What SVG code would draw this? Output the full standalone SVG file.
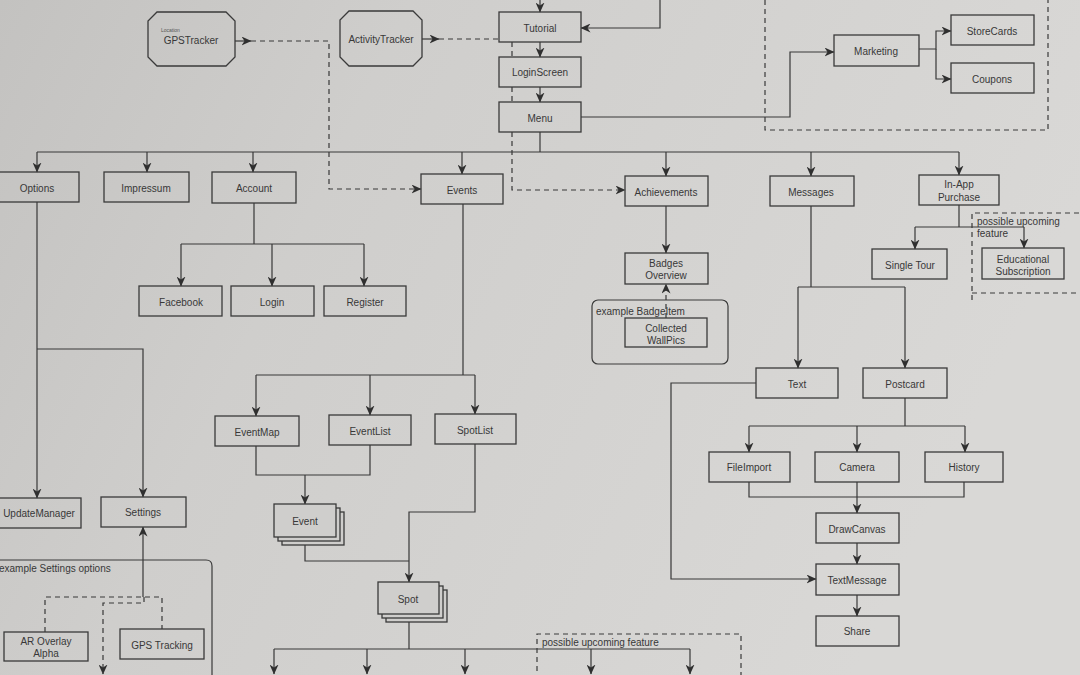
<svg xmlns="http://www.w3.org/2000/svg" width="1080" height="675" viewBox="0 0 1080 675">
<defs>
<linearGradient id="paper" x1="0" y1="0" x2="1" y2="0.3">
<stop offset="0" stop-color="#c3c2c0"/>
<stop offset="0.35" stop-color="#cfcecc"/>
<stop offset="1" stop-color="#d9d8d6"/>
</linearGradient>
<marker id="ah" viewBox="0 0 10 9" refX="9.5" refY="4.5" markerWidth="10" markerHeight="9" markerUnits="userSpaceOnUse" orient="auto">
<path d="M0,0 L10,4.5 L0,9 L3,4.5 z" fill="#2f2f2f"/>
</marker>
<style>
.n rect,.n polygon,.n path{fill:none;stroke:#3a3a3a;stroke-width:1.3}
.n .stk{fill:#cfcecc}
.t{font-family:"Liberation Sans",Arial,sans-serif;font-size:10px;fill:#383838;text-anchor:middle;dominant-baseline:central}
.l{font-family:"Liberation Sans",Arial,sans-serif;font-size:10px;fill:#383838}
.c path{fill:none;stroke:#383838;stroke-width:1.2}
.c .a{marker-end:url(#ah)}
.c .d{stroke-dasharray:5,4}
.g{fill:none;stroke:#3a3a3a;stroke-width:1.2}
.gd{fill:none;stroke:#3a3a3a;stroke-width:1.2;stroke-dasharray:5,4}
</style>
</defs>
<rect x="0" y="0" width="1080" height="675" fill="url(#paper)"/>

<!-- group frames -->
<g id="frames">
<path class="gd" d="M765,0 V130 H1048 V0"/>
<path class="gd" d="M972,300 V213 H1085"/>
<path class="gd" d="M972,293 H1085"/>
<rect class="g" x="592" y="300" width="136" height="64" rx="6"/>
<path class="g" d="M-5,560 H206 Q212,560 212,566 V680"/>
<path class="gd" d="M537,680 V634 H741 V680"/>
<text class="l" x="596" y="311" dominant-baseline="central">example BadgeItem</text>
<text class="l" x="-1" y="568" dominant-baseline="central">example Settings options</text>
<text class="l" x="977" y="221" dominant-baseline="central">possible upcoming</text>
<text class="l" x="977" y="233" dominant-baseline="central">feature</text>
<text class="l" x="542" y="642" dominant-baseline="central">possible upcoming feature</text>
</g>

<g class="c" id="connectors">
<path class="a" d="M540,0 V12"/>
<path class="a" d="M660,0 V28 H581"/>
<path class="a" d="M540,42 V57"/>
<path class="a" d="M540,87 V102"/>
<path class="a" d="M581,117 H790 V52 H834"/>
<path class="a" d="M919,49 H936 V31 H951"/>
<path class="a" d="M936,49 V79 H951"/>
<path d="M540,132 V152"/>
<path d="M37,152 H959"/>
<path class="a" d="M37,152 V172"/>
<path class="a" d="M147,152 V172"/>
<path class="a" d="M253,152 V172"/>
<path class="a" d="M462,152 V174"/>
<path class="a" d="M666,152 V176"/>
<path class="a" d="M811,152 V176"/>
<path class="a" d="M959,152 V175"/>
<path d="M254,203 V244 M181,244 H364"/>
<path class="a" d="M181,244 V286"/>
<path class="a" d="M272,244 V286"/>
<path class="a" d="M364,244 V286"/>
<path class="a" d="M37,202 V498"/>
<path class="a" d="M37,349 H143 V497"/>
<path class="a" d="M143,597 V527"/>
<path class="d" d="M45,632 V597 H162 V629"/>
<path class="d a" d="M144,597 V603 H103 V674"/>
<path d="M463,204 V375 M256,375 H475"/>
<path class="a" d="M256,375 V416"/>
<path class="a" d="M370,375 V415"/>
<path class="a" d="M475,375 V414"/>
<path d="M256,446 V475 H370 V445"/>
<path class="a" d="M305,475 V504"/>
<path class="a" d="M475,444 V512 H409 V582"/>
<path d="M305,537 V561 H409"/>
<path d="M409,614 V649 M274,649 H690"/>
<path class="a" d="M274,649 V674"/>
<path class="a" d="M367,649 V674"/>
<path class="a" d="M465,649 V674"/>
<path class="a" d="M591,649 V674"/>
<path class="a" d="M690,649 V674"/>
<path class="a" d="M666,206 V253"/>
<path class="d a" d="M666,318 V284"/>
<path d="M811,206 V287 M798,287 H905"/>
<path class="a" d="M798,287 V368"/>
<path class="a" d="M905,287 V368"/>
<path d="M905,398 V426 M749,426 H965"/>
<path class="a" d="M749,426 V452"/>
<path class="a" d="M857,426 V452"/>
<path class="a" d="M965,426 V452"/>
<path d="M749,482 V497 H964 V482"/>
<path class="a" d="M857,482 V513"/>
<path class="a" d="M857,543 V564"/>
<path class="a" d="M857,595 V616"/>
<path class="a" d="M756,383 H671 V579 H816"/>
<path d="M959,205 V227 M915,227 H1024"/>
<path class="a" d="M915,227 V249"/>
<path class="a" d="M1024,227 V248"/>
<path class="a" d="M235,41 H251"/>
<path class="d a" d="M251,41 H329 V189 H421"/>
<path class="a" d="M422,39 H439"/>
<path class="d" d="M439,39 H499"/>
<path class="d" d="M512,42 V57 M512,87 V102"/>
<path class="d a" d="M512,132 V190 H625"/>
</g>

<g id="gpstracker" class="n"><polygon points="157,12 226,12 235,21 235,57 226,66 157,66 148,57 148,21"/><text class="l" x="161" y="32" style="font-size:5px;fill:#555">Location</text><text class="t" x="191" y="40">GPSTracker</text></g>
<g id="activitytracker" class="n"><polygon points="349,11 413,11 422,20 422,57 413,66 349,66 340,57 340,20"/><text class="t" x="381" y="39">ActivityTracker</text></g>
<g id="tutorial" class="n"><rect x="499" y="12" width="82" height="30"/><text class="t" x="540" y="28">Tutorial</text></g>
<g id="loginscreen" class="n"><rect x="499" y="57" width="82" height="30"/><text class="t" x="540" y="72">LoginScreen</text></g>
<g id="menu" class="n"><rect x="499" y="102" width="82" height="30"/><text class="t" x="540" y="118">Menu</text></g>
<g id="marketing" class="n"><rect x="834" y="35" width="85" height="31"/><text class="t" x="876" y="51">Marketing</text></g>
<g id="storecards" class="n"><rect x="951" y="15" width="83" height="30"/><text class="t" x="992" y="31">StoreCards</text></g>
<g id="coupons" class="n"><rect x="951" y="63" width="83" height="30"/><text class="t" x="992" y="79">Coupons</text></g>
<g id="options" class="n"><rect x="-2" y="172" width="81" height="30"/><text class="t" x="37" y="188">Options</text></g>
<g id="impressum" class="n"><rect x="104" y="172" width="85" height="30"/><text class="t" x="146" y="188">Impressum</text></g>
<g id="account" class="n"><rect x="212" y="172" width="84" height="31"/><text class="t" x="254" y="188">Account</text></g>
<g id="facebook" class="n"><rect x="139" y="286" width="83" height="30"/><text class="t" x="181" y="302">Facebook</text></g>
<g id="login" class="n"><rect x="231" y="286" width="83" height="30"/><text class="t" x="272" y="302">Login</text></g>
<g id="register" class="n"><rect x="324" y="286" width="82" height="30"/><text class="t" x="365" y="302">Register</text></g>
<g id="events" class="n"><rect x="421" y="174" width="82" height="30"/><text class="t" x="462" y="190">Events</text></g>
<g id="achievements" class="n"><rect x="625" y="176" width="83" height="30"/><text class="t" x="666" y="192">Achievements</text></g>
<g id="badgesoverview" class="n"><rect x="625" y="253" width="83" height="31"/><text class="t" x="666" y="263">Badges</text><text class="t" x="666" y="275">Overview</text></g>
<g id="collectedwallpics" class="n"><rect x="625" y="318" width="82" height="29"/><text class="t" x="666" y="328">Collected</text><text class="t" x="666" y="340">WallPics</text></g>
<g id="messages" class="n"><rect x="770" y="176" width="84" height="30"/><text class="t" x="811" y="192">Messages</text></g>
<g id="inapppurchase" class="n"><rect x="919" y="175" width="80" height="30"/><text class="t" x="959" y="184">In-App</text><text class="t" x="959" y="197">Purchase</text></g>
<g id="singletour" class="n"><rect x="872" y="249" width="75" height="30"/><text class="t" x="910" y="265">Single Tour</text></g>
<g id="educationalsubscription" class="n"><rect x="982" y="248" width="82" height="31"/><text class="t" x="1023" y="259">Educational</text><text class="t" x="1023" y="271">Subscription</text></g>
<g id="text" class="n"><rect x="756" y="368" width="82" height="30"/><text class="t" x="797" y="384">Text</text></g>
<g id="postcard" class="n"><rect x="863" y="368" width="84" height="30"/><text class="t" x="905" y="384">Postcard</text></g>
<g id="fileimport" class="n"><rect x="709" y="452" width="81" height="30"/><text class="t" x="749" y="467">FileImport</text></g>
<g id="camera" class="n"><rect x="815" y="452" width="84" height="30"/><text class="t" x="857" y="467">Camera</text></g>
<g id="history" class="n"><rect x="925" y="452" width="78" height="30"/><text class="t" x="964" y="467">History</text></g>
<g id="drawcanvas" class="n"><rect x="816" y="513" width="83" height="30"/><text class="t" x="857" y="529">DrawCanvas</text></g>
<g id="textmessage" class="n"><rect x="816" y="564" width="83" height="31"/><text class="t" x="857" y="580">TextMessage</text></g>
<g id="share" class="n"><rect x="816" y="616" width="83" height="30"/><text class="t" x="857" y="631">Share</text></g>
<g id="updatemanager" class="n"><rect x="-2" y="498" width="83" height="30"/><text class="t" x="39" y="513">UpdateManager</text></g>
<g id="settings" class="n"><rect x="101" y="497" width="85" height="30"/><text class="t" x="143" y="512">Settings</text></g>
<g id="aroverlayalpha" class="n"><rect x="4" y="632" width="84" height="29"/><text class="t" x="46" y="641">AR Overlay</text><text class="t" x="46" y="653">Alpha</text></g>
<g id="gpstracking" class="n"><rect x="120" y="629" width="84" height="30"/><text class="t" x="162" y="645">GPS Tracking</text></g>
<g id="eventmap" class="n"><rect x="215" y="416" width="84" height="30"/><text class="t" x="257" y="432">EventMap</text></g>
<g id="eventlist" class="n"><rect x="329" y="415" width="82" height="30"/><text class="t" x="370" y="431">EventList</text></g>
<g id="spotlist" class="n"><rect x="435" y="414" width="81" height="30"/><text class="t" x="475" y="430">SpotList</text></g>
<g id="event" class="n"><rect class="stk" x="282" y="512" width="62" height="33"/><rect class="stk" x="278" y="508" width="62" height="33"/><rect class="stk" x="274" y="504" width="62" height="33"/><text class="t" x="305" y="521">Event</text></g>
<g id="spot" class="n"><rect class="stk" x="386" y="590" width="61" height="32"/><rect class="stk" x="382" y="586" width="61" height="32"/><rect class="stk" x="378" y="582" width="61" height="32"/><text class="t" x="408" y="599">Spot</text></g>
</svg>
